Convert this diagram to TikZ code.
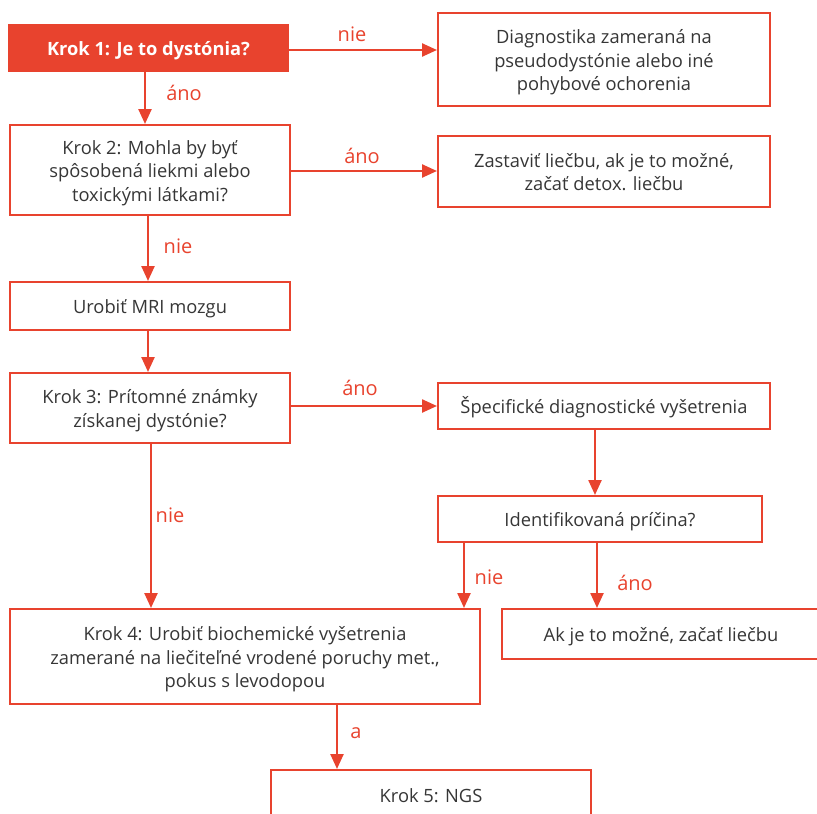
\documentclass[tikz,border=0pt]{standalone}
\usepackage{fontspec}
\setmainfont{Open Sans}
\usetikzlibrary{arrows.meta}
\definecolor{ored}{HTML}{E8432E}
\definecolor{txt}{HTML}{363636}
\newcommand\boxtext[1]{\raisebox{-3pt}[\height][\depth]{\begin{tabular}{@{}c@{}}#1\end{tabular}}}
\tikzset{
  box/.style={draw=ored, line width=2pt, fill=white, text=txt, align=center, inner sep=0pt,
    font=\fontsize{18.3}{23.5}\selectfont},
  arr/.style={draw=ored, line width=2.4pt, -{Triangle[length=15pt,width=13pt]}},
  lab/.style={text=ored, font=\fontsize{20}{22}\selectfont, inner sep=0pt}
}
\begin{document}
\begin{tikzpicture}[x=1pt,y=-1pt]
\useasboundingbox (0,0) rectangle (817,814);
\clip (0,0) rectangle (817,814);
% nodes
\node[box, fill=ored, text=white, font=\fontsize{18.3}{23.5}\selectfont\bfseries, minimum width=279pt, minimum height=46pt] (k1) at (148.5,48) {\boxtext{Krok 1: Je to dystónia?}};
\node[box, minimum width=332pt, minimum height=93pt] (dg) at (604,59.5) {\boxtext{Diagnostika zameraná na\\pseudodystónie alebo iné\\pohybové ochorenia}};
\node[box, minimum width=280pt, minimum height=90pt] (k2) at (150,170) {\boxtext{Krok 2: Mohla by byť\\spôsobená liekmi alebo\\toxickými látkami?}};
\node[box, minimum width=332pt, minimum height=71pt] (zs) at (604,171.5) {\boxtext{Zastaviť liečbu, ak je to možné,\\začať detox. liečbu}};
\node[box, minimum width=280pt, minimum height=48pt] (mri) at (150,306) {\boxtext{Urobiť MRI mozgu}};
\node[box, minimum width=280pt, minimum height=70pt] (k3) at (150,408) {\boxtext{Krok 3: Prítomné známky\\získanej dystónie?}};
\node[box, minimum width=332pt, minimum height=46pt] (sp) at (604,406) {\boxtext{Špecifické diagnostické vyšetrenia}};
\node[box, minimum width=324pt, minimum height=46pt] (id) at (600,519) {\boxtext{Identifikovaná príčina?}};
\node[box, minimum width=318pt, minimum height=50pt] (ak) at (661,634) {\boxtext{Ak je to možné, začať liečbu}};
\node[box, minimum width=470pt, minimum height=95pt] (k4) at (245,656.5) {\boxtext{Krok 4: Urobiť biochemické vyšetrenia\\zamerané na liečiteľné vrodené poruchy met.,\\pokus s levodopou}};
\node[box, minimum width=320pt, minimum height=90pt] (k5) at (431,815) {};
\node[text=txt, font=\fontsize{18.3}{23.5}\selectfont, inner sep=0pt] (k5t) at (431,796) {Krok 5: NGS};
% labels
\node[lab] (l1) at (184,93) {áno};
\node[lab] (l2) at (352,34) {nie};
\node[lab] (l3) at (362,156) {áno};
\node[lab] (l4) at (178,246) {nie};
\node[lab] (l5) at (360,388) {áno};
\node[lab] (l6) at (170,515) {nie};
\node[lab] (l7) at (489,577) {nie};
\node[lab] (l8) at (635,583) {áno};
\node[lab] (l9) at (356,733) {a};
% connectors
\draw[arr] (k1.south -| 145,0) -- (k2.north -| 145,0);
\draw[arr] (k1.east |- 0,50) -- (dg.west |- 0,50);
\draw[arr] (k2.east |- 0,171) -- (zs.west |- 0,171);
\draw[arr] (k2.south -| 148,0) -- (mri.north -| 148,0);
\draw[arr] (mri.south -| 148,0) -- (k3.north -| 148,0);
\draw[arr] (k3.east |- 0,406) -- (sp.west |- 0,406);
\draw[arr] (k3.south -| 151,0) -- (k4.north -| 151,0);
\draw[arr] (sp.south -| 595,0) -- (id.north -| 595,0);
\draw[arr] (id.south -| 464,0) -- (k4.north -| 464,0);
\draw[arr] (id.south -| 597,0) -- (ak.north -| 597,0);
\draw[arr] (k4.south -| 337,0) -- (k5.north -| 337,0);
\end{tikzpicture}
\end{document}
